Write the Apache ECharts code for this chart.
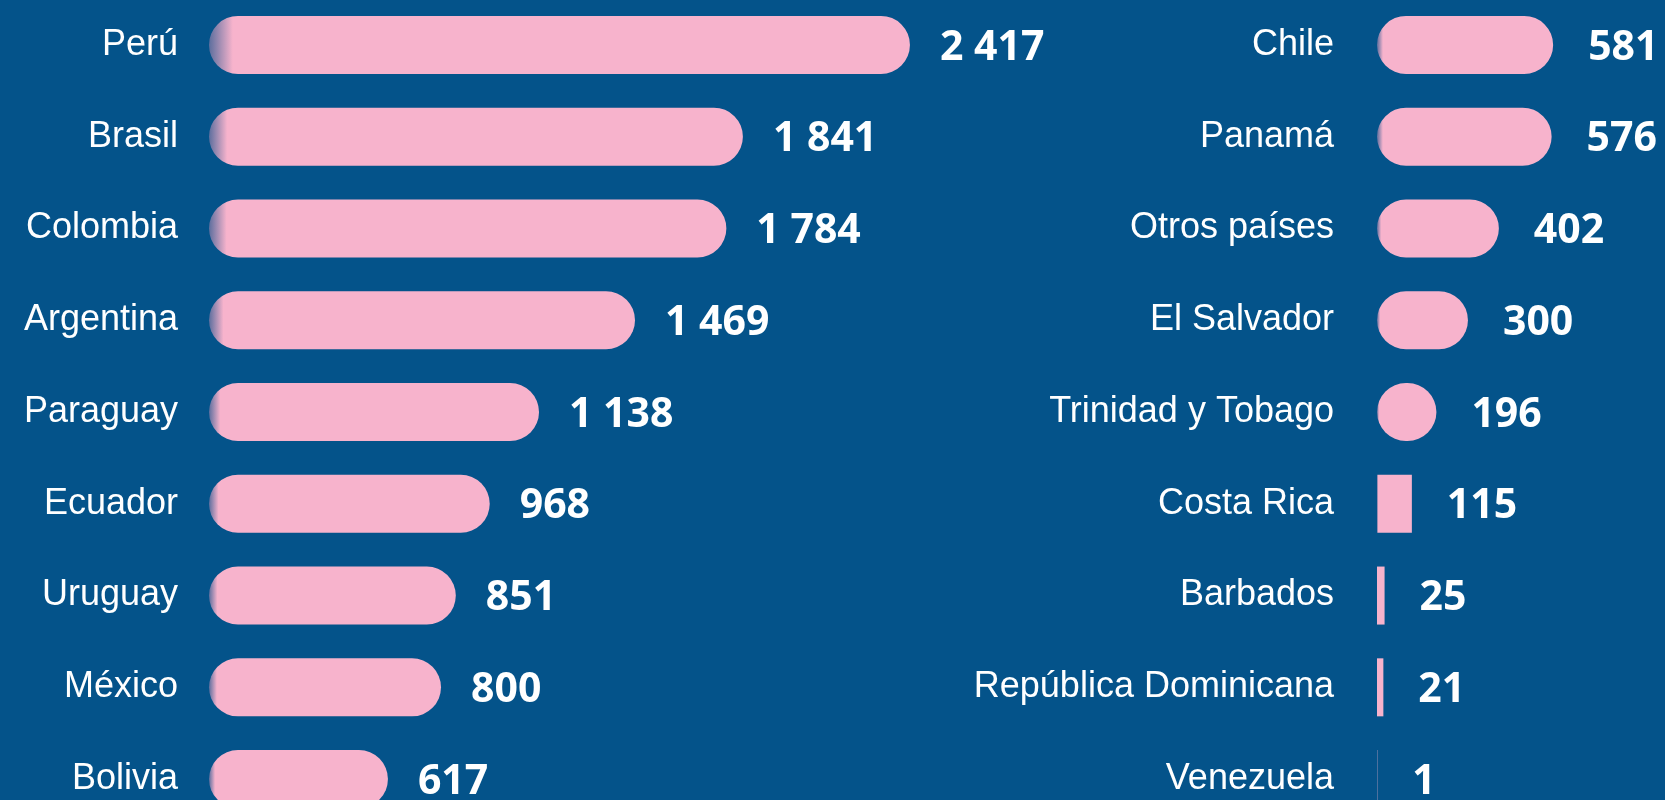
<!DOCTYPE html>
<html>
<head>
<meta charset="utf-8">
<title>Países</title>
<script src="https://cdn.jsdelivr.net/npm/echarts@6/dist/echarts.min.js"></script>
<style>
  html, body { margin: 0; padding: 0; background: #04538a; }
  #chart { width: 1665px; height: 800px; }
</style>
</head>
<body>
<div id="chart"></div>
<script>
// left column
const leftCountries = ['Perú', 'Brasil', 'Colombia', 'Argentina', 'Paraguay', 'Ecuador', 'Uruguay', 'México', 'Bolivia'];
const leftValues = [2417, 1841, 1784, 1469, 1138, 968, 851, 800, 617];

// right column
const rightCountries = ['Chile', 'Panamá', 'Otros países', 'El Salvador', 'Trinidad y Tobago', 'Costa Rica', 'Barbados', 'República Dominicana', 'Venezuela'];
const rightValues = [581, 576, 402, 300, 196, 115, 25, 21, 1];

const BG = '#04538a';
const PINK = '#f7b3cc';
const BAR_H = 58;
const ROUND_MIN = 150; // smaller bars are drawn square

const barFill = new echarts.graphic.LinearGradient(0, 0, 1, 0, [
  { offset: 0, color: '#5b6e9e' },
  { offset: 0.034, color: PINK },
  { offset: 1, color: PINK }
]);

const fmt = (v) => String(v).replace(/\B(?=(\d{3})+(?!\d))/g, ' ');

const toItems = (values) => values.map(v => ({
  value: v,
  itemStyle: { borderRadius: v >= ROUND_MIN ? BAR_H / 2 : 0 }
}));

const catAxis = (idx, data, margin) => ({
  type: 'category',
  gridIndex: idx,
  data,
  inverse: true,
  axisLine: { show: false },
  axisTick: { show: false },
  axisLabel: {
    margin,
    color: '#ffffff',
    fontFamily: 'Liberation Sans',
    fontSize: 36,
    padding: [5, 0, 0, 0]
  }
});

const valAxis = (idx, max) => ({
  type: 'value',
  gridIndex: idx,
  min: 0,
  max,
  show: false
});

const barSeries = (idx, values, dist) => ({
  type: 'bar',
  xAxisIndex: idx,
  yAxisIndex: idx,
  data: toItems(values),
  barWidth: BAR_H,
  itemStyle: { color: barFill },
  label: {
    show: true,
    position: 'right',
    distance: dist,
    offset: [0, 3],
    color: '#ffffff',
    fontFamily: 'Open Sans',
    fontWeight: 'bold',
    fontSize: 41,
    formatter: (p) => fmt(p.value)
  },
  emphasis: { disabled: true },
  silent: true
});

const chart = echarts.init(document.getElementById('chart'));
chart.setOption({
  backgroundColor: BG,
  animation: false,
  grid: [
    { left: 209, top: -1, width: 754, height: 826, outerBoundsMode: 'none' },
    { left: 1377, top: -1, width: 288, height: 826, outerBoundsMode: 'none' }
  ],
  xAxis: [valAxis(0, 2600), valAxis(1, 950)],
  yAxis: [catAxis(0, leftCountries, 31), catAxis(1, rightCountries, 43)],
  series: [barSeries(0, leftValues, 30), barSeries(1, rightValues, 35)]
});

window.addEventListener('resize', () => chart.resize());
</script>
</body>
</html>
